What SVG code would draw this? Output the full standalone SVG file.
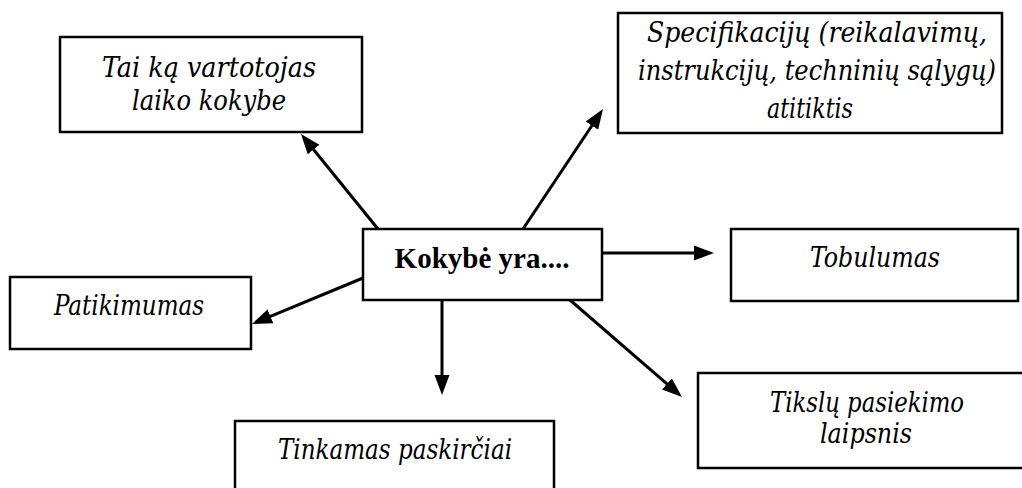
<svg xmlns="http://www.w3.org/2000/svg" width="1022" height="488" viewBox="0 0 1022 488">
  <style>
    .box { fill: #ffffff; stroke: #000000; stroke-width: 2.5; }
    .lbl { font-family: 'DejaVu Serif', 'Liberation Serif', serif; font-size: 27px; font-style: italic; font-stretch: condensed; fill: #000000; text-anchor: middle; }
    .main { font-family: 'Liberation Serif', 'Times New Roman', serif; font-size: 29px; font-weight: bold; fill: #000000; text-anchor: middle; }
    .edge { fill: none; stroke: #000000; stroke-width: 3; }
  </style>
  <defs>
    <marker id="arrow" markerUnits="userSpaceOnUse" markerWidth="24" markerHeight="18" viewBox="0 -9 24 18" refX="2" refY="0" orient="auto">
      <path d="M0,-7.5 L20,0 L0,7.5 Z" fill="#000000"/>
    </marker>
  </defs>
  <rect width="1022" height="488" fill="#ffffff"/>

  <!-- connectors from the central node -->
  <g id="connectors">
    <line class="edge" x1="378" y1="229" x2="312.3" y2="148" marker-end="url(#arrow)"/>
    <line class="edge" x1="523" y1="229" x2="593" y2="124" marker-end="url(#arrow)"/>
    <line class="edge" x1="602" y1="253" x2="696" y2="253" marker-end="url(#arrow)"/>
    <line class="edge" x1="363" y1="278" x2="268.6" y2="317.1" marker-end="url(#arrow)"/>
    <line class="edge" x1="442" y1="300" x2="442" y2="377" marker-end="url(#arrow)"/>
    <line class="edge" x1="570" y1="300" x2="668.4" y2="385.2" marker-end="url(#arrow)"/>
  </g>

  <g id="node-center">
    <rect class="box" x="363" y="229" width="239" height="71"/>
    <text class="main" x="482" y="268">Kokybė yra....</text>
  </g>

  <g id="node-vartotojas">
    <rect class="box" x="60" y="37" width="302" height="95"/>
    <text class="lbl" x="209" y="77" textLength="214" lengthAdjust="spacingAndGlyphs">Tai ką vartotojas</text>
    <text class="lbl" x="209" y="110" textLength="154" lengthAdjust="spacingAndGlyphs">laiko kokybe</text>
  </g>

  <g id="node-specifikacijos">
    <rect class="box" x="618" y="13" width="384" height="120"/>
    <text class="lbl" x="817" y="42" textLength="340" lengthAdjust="spacingAndGlyphs">Specifikacijų (reikalavimų,</text>
    <text class="lbl" x="817" y="80" textLength="358" lengthAdjust="spacingAndGlyphs">instrukcijų, techninių sąlygų)</text>
    <text class="lbl" x="810" y="118" textLength="86" lengthAdjust="spacingAndGlyphs">atitiktis</text>
  </g>

  <g id="node-tobulumas">
    <rect class="box" x="731" y="229" width="287" height="72"/>
    <text class="lbl" x="875" y="267" textLength="130" lengthAdjust="spacingAndGlyphs">Tobulumas</text>
  </g>

  <g id="node-patikimumas">
    <rect class="box" x="10" y="277" width="241" height="72"/>
    <text class="lbl" x="129" y="315" textLength="150" lengthAdjust="spacingAndGlyphs">Patikimumas</text>
  </g>

  <g id="node-tinkamas">
    <rect class="box" x="235" y="421" width="319" height="80"/>
    <text class="lbl" x="395" y="459" textLength="234" lengthAdjust="spacingAndGlyphs">Tinkamas paskirčiai</text>
  </g>

  <g id="node-tikslai">
    <rect class="box" x="698" y="373" width="330" height="95"/>
    <text class="lbl" x="867" y="412" textLength="194" lengthAdjust="spacingAndGlyphs">Tikslų pasiekimo</text>
    <text class="lbl" x="866" y="443" textLength="92" lengthAdjust="spacingAndGlyphs">laipsnis</text>
  </g>
</svg>
